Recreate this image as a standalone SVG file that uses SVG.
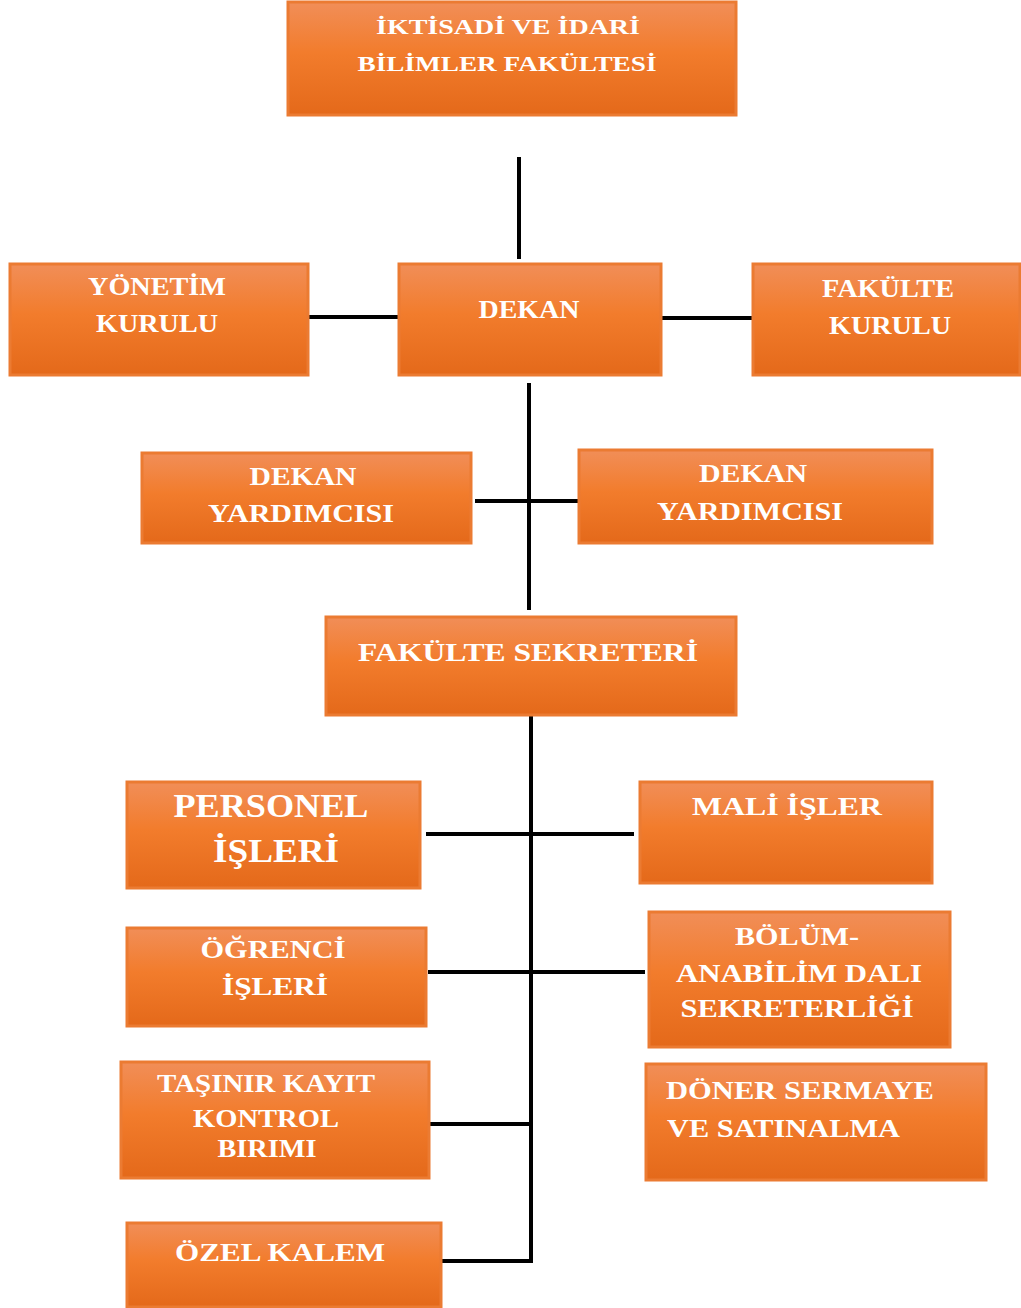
<svg xmlns="http://www.w3.org/2000/svg" width="1021" height="1308" viewBox="0 0 1021 1308">
<defs>
<linearGradient id="og" x1="0" y1="0" x2="0" y2="1">
<stop offset="0" stop-color="#F18E58"/>
<stop offset="0.45" stop-color="#F27C2C"/>
<stop offset="1" stop-color="#E4691A"/>
</linearGradient>
<style>
.box{fill:url(#og);stroke:#EB7B32;stroke-width:3}
.t{font-family:"Liberation Serif","Times New Roman",serif;font-weight:bold;fill:#FFFFFF;font-size:26px;text-anchor:middle}
.s{font-size:21px}
.l{font-size:33px}
.st{text-anchor:start}
.c{fill:none;stroke:#000;stroke-width:4}
</style>
</defs>
<rect width="1021" height="1308" fill="#FFFFFF"/>
<g id="connectors">
<line class="c" x1="519" y1="157" x2="519" y2="259" stroke-width="2"/>
<line class="c" x1="305" y1="317" x2="398" y2="317" stroke-width="2.5"/>
<line class="c" x1="662" y1="318" x2="753" y2="318" stroke="#555" stroke-width="2.5"/>
<line class="c" x1="529" y1="383" x2="529" y2="610" stroke="#777" stroke-width="3"/>
<line class="c" x1="475" y1="501" x2="578" y2="501" stroke-width="5"/>
<line class="c" x1="531" y1="716" x2="531" y2="1263"/>
<line class="c" x1="426" y1="834" x2="634" y2="834"/>
<line class="c" x1="428" y1="972" x2="645" y2="972"/>
<line class="c" x1="430" y1="1124" x2="531" y2="1124"/>
<line class="c" x1="442" y1="1261" x2="533" y2="1261"/>
</g>
<g id="n-fakulte">
<rect class="box" x="288" y="2" width="448" height="113"/>
<text class="t s" x="508" y="34" textLength="264" lengthAdjust="spacingAndGlyphs">İKTİSADİ VE  İDARİ</text>
<text class="t s" x="507" y="71" textLength="299" lengthAdjust="spacingAndGlyphs">BİLİMLER FAKÜLTESİ</text>
</g>
<g id="n-yonetim">
<rect class="box" x="10" y="264" width="298" height="111"/>
<text class="t" x="157" y="295" textLength="138" lengthAdjust="spacingAndGlyphs">YÖNETİM</text>
<text class="t" x="157" y="332" textLength="122" lengthAdjust="spacingAndGlyphs">KURULU</text>
</g>
<g id="n-dekan">
<rect class="box" x="399" y="264" width="262" height="111"/>
<text class="t" x="529" y="318" textLength="101" lengthAdjust="spacingAndGlyphs">DEKAN</text>
</g>
<g id="n-fkurulu">
<rect class="box" x="753" y="264" width="267" height="111"/>
<text class="t" x="888" y="297" textLength="132" lengthAdjust="spacingAndGlyphs">FAKÜLTE</text>
<text class="t" x="890" y="334" textLength="122" lengthAdjust="spacingAndGlyphs">KURULU</text>
</g>
<g id="n-dy1">
<rect class="box" x="142" y="453" width="329" height="90"/>
<text class="t" x="303" y="485" textLength="107" lengthAdjust="spacingAndGlyphs">DEKAN</text>
<text class="t" x="301" y="522" textLength="186" lengthAdjust="spacingAndGlyphs">YARDIMCISI</text>
</g>
<g id="n-dy2">
<rect class="box" x="579" y="450" width="353" height="93"/>
<text class="t" x="753" y="482" textLength="108" lengthAdjust="spacingAndGlyphs">DEKAN</text>
<text class="t" x="750" y="520" textLength="186" lengthAdjust="spacingAndGlyphs">YARDIMCISI</text>
</g>
<g id="n-sekreter">
<rect class="box" x="326" y="617" width="410" height="98"/>
<text class="t" x="528" y="661" textLength="340" lengthAdjust="spacingAndGlyphs">FAKÜLTE SEKRETERİ</text>
</g>
<g id="n-personel">
<rect class="box" x="127" y="782" width="293" height="106"/>
<text class="t l" x="271" y="817" textLength="195" lengthAdjust="spacingAndGlyphs">PERSONEL</text>
<text class="t l" x="276" y="862" textLength="126" lengthAdjust="spacingAndGlyphs">İŞLERİ</text>
</g>
<g id="n-mali">
<rect class="box" x="640" y="782" width="292" height="101"/>
<text class="t" x="787" y="815" textLength="190" lengthAdjust="spacingAndGlyphs">MALİ İŞLER</text>
</g>
<g id="n-ogrenci">
<rect class="box" x="127" y="928" width="299" height="98"/>
<text class="t" x="273" y="958" textLength="145" lengthAdjust="spacingAndGlyphs">ÖĞRENCİ</text>
<text class="t" x="275" y="995" textLength="106" lengthAdjust="spacingAndGlyphs">İŞLERİ</text>
</g>
<g id="n-bolum">
<rect class="box" x="649" y="912" width="301" height="135"/>
<text class="t" x="797" y="945" textLength="124" lengthAdjust="spacingAndGlyphs">BÖLÜM-</text>
<text class="t" x="799" y="982" textLength="246" lengthAdjust="spacingAndGlyphs">ANABİLİM DALI</text>
<text class="t" x="797" y="1017" textLength="233" lengthAdjust="spacingAndGlyphs">SEKRETERLİĞİ</text>
</g>
<g id="n-tasinir">
<rect class="box" x="121" y="1062" width="308" height="116"/>
<text class="t" x="266" y="1092" textLength="218" lengthAdjust="spacingAndGlyphs">TAŞINIR KAYIT</text>
<text class="t" x="266" y="1127" textLength="146" lengthAdjust="spacingAndGlyphs">KONTROL</text>
<text class="t" x="267" y="1157" textLength="99" lengthAdjust="spacingAndGlyphs">BIRIMI</text>
</g>
<g id="n-doner">
<rect class="box" x="646" y="1064" width="340" height="116"/>
<text class="t st" x="666" y="1099" textLength="268" lengthAdjust="spacingAndGlyphs">DÖNER SERMAYE</text>
<text class="t st" x="667" y="1137" textLength="233" lengthAdjust="spacingAndGlyphs">VE SATINALMA</text>
</g>
<g id="n-ozel">
<rect class="box" x="127" y="1223" width="314" height="84"/>
<text class="t" x="280" y="1261" textLength="210" lengthAdjust="spacingAndGlyphs">ÖZEL KALEM</text>
</g>
</svg>
